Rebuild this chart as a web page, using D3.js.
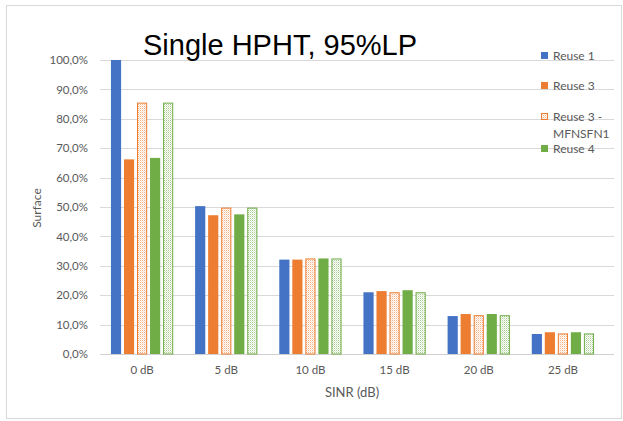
<!DOCTYPE html>
<html>
<head>
<meta charset="utf-8">
<script src="https://cdn.jsdelivr.net/npm/d3@7"></script>
<style>
  body { margin: 0; background: #fff; }
  text { font-family: Lato, "Liberation Sans", sans-serif; }
</style>
</head>
<body>
<script>
  // data
  var categories = ["0 dB", "5 dB", "10 dB", "15 dB", "20 dB", "25 dB"];
  var reuse1 = [100.0, 50.3, 32.1, 21.0, 12.9, 6.8];
  var reuse3 = [66.2, 47.2, 32.1, 21.4, 13.6, 7.4];
  var reuse3mfn = [85.5, 49.8, 32.5, 21.0, 13.2, 7.0];
  var reuse4 = [66.7, 47.5, 32.5, 21.7, 13.6, 7.4];
  var reuse4mfn = [85.5, 49.8, 32.5, 21.0, 13.2, 7.0];
  var yTicks = [0, 10, 20, 30, 40, 50, 60, 70, 80, 90, 100];

  var series = [
    {name: "Reuse 1", values: reuse1, color: "#4472c4", hatch: false, legend: true},
    {name: "Reuse 3", values: reuse3, color: "#ed7d31", hatch: false, legend: true},
    {name: "Reuse 3 - MFNSFN1", values: reuse3mfn, color: "#ed7d31", hatch: true, legend: true},
    {name: "Reuse 4", values: reuse4, color: "#70ad47", hatch: false, legend: true},
    {name: "Reuse 4 - MFNSFN1", values: reuse4mfn, color: "#70ad47", hatch: true, legend: false}
  ];

  var W = 623, H = 421;
  var plot = {left: 100, right: 605, top: 60, bottom: 354};

  var svg = d3.select("body").append("svg")
    .attr("width", W)
    .attr("height", H);

  // dotted fills for the hatched series
  var defs = svg.append("defs");
  series.filter(s => s.hatch).forEach(function(s, i) {
    var p = defs.append("pattern")
      .attr("id", "hatch" + i)
      .attr("patternUnits", "userSpaceOnUse")
      .attr("width", 2)
      .attr("height", 2);
    p.append("rect").attr("width", 2).attr("height", 2).attr("fill", "#fff");
    p.append("rect").attr("x", 0).attr("y", 0).attr("width", 1).attr("height", 1)
      .attr("fill", s.color).attr("opacity", 0.6);
    p.append("rect").attr("x", 1).attr("y", 1).attr("width", 1).attr("height", 1)
      .attr("fill", s.color).attr("opacity", 0.25);
    s.fillId = "hatch" + i;
  });

  // chart frame
  svg.append("rect")
    .attr("x", 6.5).attr("y", 5.5)
    .attr("width", 615).attr("height", 413)
    .attr("fill", "#fff")
    .attr("stroke", "#d9d9d9");

  var xScale = d3.scaleBand()
    .domain(categories)
    .range([plot.left, plot.right])
    .paddingInner(0.26)
    .paddingOuter(0.13);

  var xInner = d3.scaleBand()
    .domain(series.map(s => s.name))
    .range([0, xScale.bandwidth()])
    .paddingInner(0.22);

  var yScale = d3.scaleLinear()
    .domain([0, 100])
    .range([plot.bottom, plot.top]);

  // gridlines
  svg.append("g")
    .selectAll("line")
    .data(yTicks)
    .enter()
    .append("line")
    .attr("x1", plot.left)
    .attr("x2", 614)
    .attr("y1", d => Math.round(yScale(d)) + 0.5)
    .attr("y2", d => Math.round(yScale(d)) + 0.5)
    .attr("stroke", d => d == 0 ? "#d0d0d0" : "#d9d9d9")
    .attr("stroke-width", 1);

  // y axis tick labels
  var yAxis = d3.axisLeft(yScale)
    .tickValues(yTicks)
    .tickSize(0)
    .tickPadding(12)
    .tickFormat(d => d.toFixed(1).replace(".", ",") + "%");

  svg.append("g")
    .attr("transform", "translate(" + plot.left + ",0)")
    .call(yAxis)
    .call(g => g.select(".domain").remove())
    .selectAll("text")
    .attr("fill", "#595959")
    .style("font-size", "11.5px");

  // x axis labels
  var xAxis = d3.axisBottom(xScale).tickSize(0).tickPadding(12);
  svg.append("g")
    .attr("transform", "translate(0," + plot.bottom + ")")
    .call(xAxis)
    .call(g => g.select(".domain").remove())
    .selectAll("text")
    .attr("fill", "#595959")
    .style("font-size", "11.5px");

  // bars
  series.forEach(function(s) {
    svg.append("g")
      .selectAll("rect")
      .data(s.values)
      .enter()
      .append("rect")
      .attr("x", (d, i) => xScale(categories[i]) + xInner(s.name) + (s.hatch ? 0.5 : 0))
      .attr("y", d => yScale(d) + (s.hatch ? 0.5 : 0))
      .attr("width", xInner.bandwidth() - (s.hatch ? 1 : 0))
      .attr("height", d => plot.bottom - yScale(d) - (s.hatch ? 0.5 : 0))
      .attr("fill", s.hatch ? "url(#" + s.fillId + ")" : s.color)
      .attr("stroke", s.hatch ? s.color : "none")
      .attr("stroke-width", 1);
  });

  // title
  svg.append("text")
    .attr("x", 143)
    .attr("y", 55)
    .style("font-family", "'Liberation Sans', Arial, sans-serif")
    .style("font-size", "29px")
    .attr("fill", "#000")
    .text("Single HPHT, 95%LP");

  // axis titles
  svg.append("text")
    .attr("transform", "translate(41,208) rotate(-90)")
    .attr("text-anchor", "middle")
    .attr("fill", "#595959")
    .style("font-size", "12px")
    .text("Surface");

  svg.append("text")
    .attr("x", 352)
    .attr("y", 397)
    .attr("text-anchor", "middle")
    .attr("fill", "#595959")
    .style("font-size", "13px")
    .text("SINR (dB)");

  // legend
  var legendY = [56, 86, 117, 149];
  var legend = svg.append("g");
  series.filter(s => s.legend).forEach(function(s, i) {
    var row = legend.append("g")
      .attr("transform", "translate(541," + legendY[i] + ")");
    row.append("rect")
      .attr("x", s.hatch ? 0.5 : 0)
      .attr("y", -4 + (s.hatch ? 0.5 : 0))
      .attr("width", s.hatch ? 6 : 7)
      .attr("height", s.hatch ? 6 : 7)
      .attr("fill", s.hatch ? "url(#" + s.fillId + ")" : s.color)
      .attr("stroke", s.hatch ? s.color : "none");
    var t = row.append("text")
      .attr("x", 12)
      .attr("y", 4)
      .attr("fill", "#595959")
      .style("font-size", "12px");
    if (s.name == "Reuse 3 - MFNSFN1") {
      t.append("tspan").attr("x", 12).text("Reuse 3 -");
      t.append("tspan").attr("x", 12).attr("dy", 17).text("MFNSFN1");
    } else {
      t.text(s.name);
    }
  });
</script>
</body>
</html>
